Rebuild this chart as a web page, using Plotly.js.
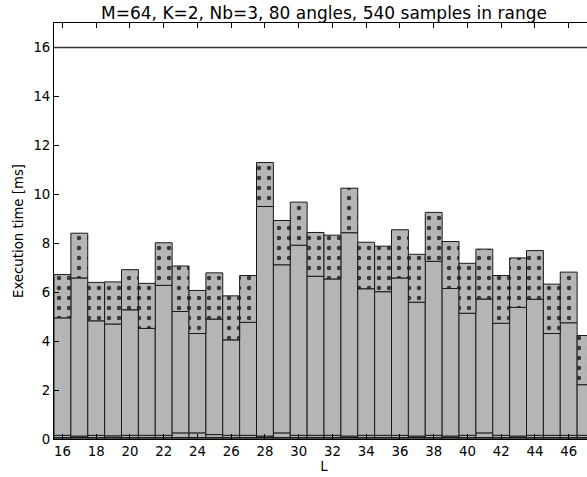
<!DOCTYPE html>
<html>
<head>
<meta charset="utf-8">
<script src="https://cdn.plot.ly/plotly-3.0.1.min.js"></script>
<style>
html,body{margin:0;padding:0;overflow:hidden;background:#fff;}
#chart{width:640px;height:477px;}
</style>
</head>
<body>
<div id="chart"></div>
<script>
const L = [16,17,18,19,20,21,22,23,24,25,26,27,28,29,30,31,32,33,34,35,36,37,38,39,40,41,42,43,44,45,46,47];
const bottomTop = [0.15,0.12,0.15,0.13,0.15,0.15,0.15,0.25,0.25,0.18,0.15,0.15,0.12,0.25,0.15,0.15,0.15,0.12,0.15,0.15,0.15,0.12,0.15,0.12,0.15,0.25,0.15,0.12,0.15,0.15,0.15,0.15];
const midTop = [4.95,6.58,4.83,4.70,5.28,4.52,6.28,5.21,4.31,4.90,4.05,4.77,9.50,7.12,7.92,6.65,6.54,8.43,6.14,6.02,6.58,5.59,7.26,6.15,5.14,5.72,4.73,5.38,5.71,4.31,4.75,2.22];
const totalTop = [6.72,8.41,6.40,6.42,6.92,6.36,8.02,7.07,6.07,6.79,5.85,6.68,11.30,8.93,9.68,8.44,8.33,10.25,8.04,7.88,8.55,7.55,9.26,8.07,7.18,7.76,6.68,7.40,7.70,6.33,6.82,4.23];
const limitValue = 16;
const xTicks = [16,18,20,22,24,26,28,30,32,34,36,38,40,42,44,46];
const yTicks = [0,2,4,6,8,10,12,14,16];

const gray = '#b4b6b6';
const edge = {color:'#1a1a1a', width:1};
const lowBase = 0.06;

const traces = [
  {type:'bar', x:L, y:L.map(()=>lowBase), base:L.map(()=>0), width:1,
   marker:{color:'#8a8c8c', line:edge}, hoverinfo:'skip'},
  {type:'bar', x:L, y:bottomTop.map(v=>v-lowBase), base:L.map(()=>lowBase), width:1,
   marker:{color:gray, line:edge}, hoverinfo:'skip'},
  {type:'bar', x:L, y:midTop.map((v,i)=>v-bottomTop[i]), base:bottomTop, width:1,
   marker:{color:gray, line:edge}},
  {type:'bar', x:L, y:totalTop.map((v,i)=>v-midTop[i]), base:midTop, width:1,
   marker:{color:gray, line:edge,
     pattern:{shape:'.', fgcolor:'#3a3a3a', bgcolor:gray, size:10, solidity:0.16, fillmode:'replace'}}}
];

const layout = {
  width:640, height:477,
  margin:{l:54, r:46, t:23, b:38},
  paper_bgcolor:'#fff', plot_bgcolor:'#fff',
  showlegend:false,
  barmode:'overlay', bargap:0,
  font:{family:'DejaVu Sans', size:13, color:'#000'},
  title:{text:'M=64, K=2, Nb=3, 80 angles, 540 samples in range', font:{family:'DejaVu Sans', size:17, color:'#000'},
         x:0.5, xref:'paper', y:1, yref:'paper', yanchor:'bottom', pad:{b:4}},
  xaxis:{range:[15.5,47.5], tickvals:xTicks, ticktext:xTicks.map(String),
         ticks:'inside', ticklen:5, tickwidth:1, tickcolor:'#000',
         showline:true, linecolor:'#000', linewidth:1, mirror:'ticks',
         showgrid:false, zeroline:false,
         tickfont:{family:'DejaVu Sans', size:13.3},
         title:{text:'L', font:{family:'DejaVu Sans', size:13.3}, standoff:2}},
  yaxis:{range:[0,17], tickvals:yTicks, ticktext:yTicks.map(String),
         ticks:'inside', ticklen:5, tickwidth:1, tickcolor:'#000',
         showline:true, linecolor:'#000', linewidth:1, mirror:'ticks',
         showgrid:false, zeroline:false,
         tickfont:{family:'DejaVu Sans', size:13.3},
         title:{text:'Execution time [ms]', font:{family:'DejaVu Sans', size:13.3}, standoff:6}},
  shapes:[{type:'line', xref:'paper', x0:0, x1:1, yref:'y', y0:limitValue, y1:limitValue,
           line:{color:'#333', width:1.5}}]
};

Plotly.newPlot('chart', traces, layout, {staticPlot:true, displayModeBar:false});
</script>
</body>
</html>
